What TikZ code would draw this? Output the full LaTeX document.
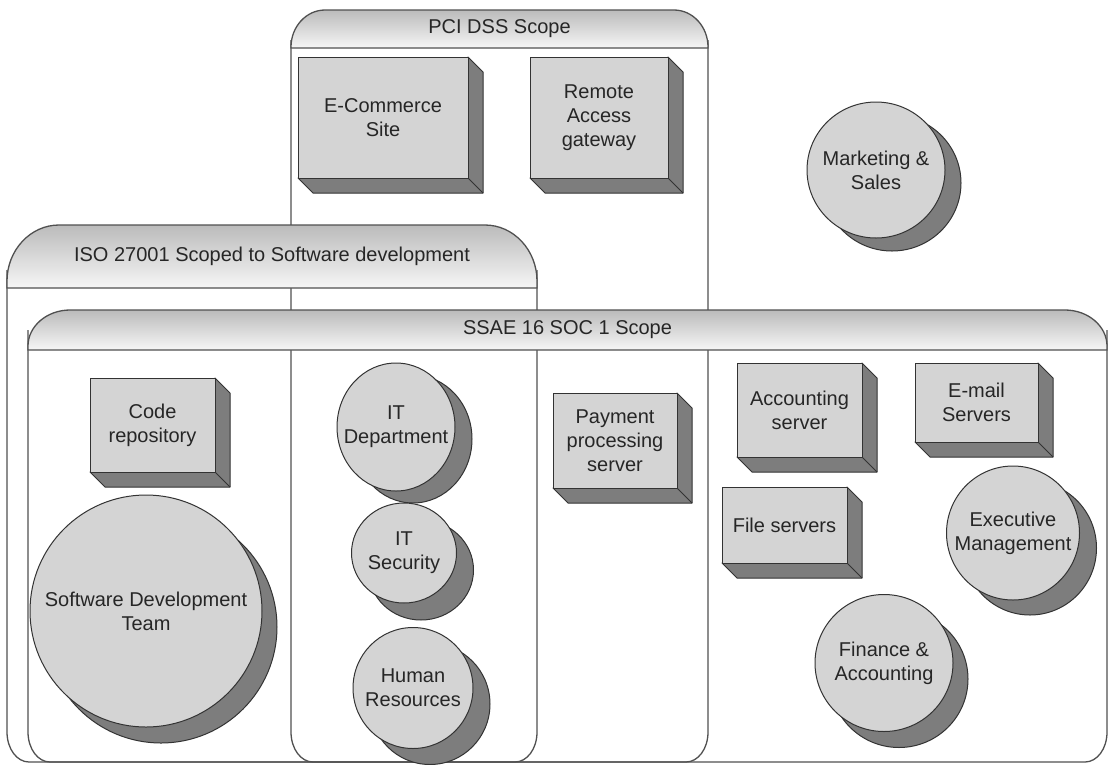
\documentclass[tikz,border=0pt]{standalone}
\usepackage{fontspec}
\setmainfont{Liberation Sans}
\usetikzlibrary{shapes.geometric}
\definecolor{face}{HTML}{D4D4D4}
\definecolor{side}{HTML}{7D7D7D}
\definecolor{edge}{HTML}{333333}
\definecolor{frame}{HTML}{505050}
\definecolor{txt}{HTML}{262626}
\definecolor{hdtop}{HTML}{BBBBBB}
\definecolor{hdbot}{HTML}{F6F6F6}

\tikzset{
  framestyle/.style={draw=frame, line width=1.3pt},
  headstyle/.style={draw=frame, line width=1.3pt, top color=hdtop, bottom color=hdbot},
  lbl/.style={text=txt, align=center, font=\fontsize{20}{24}\selectfont, inner sep=0pt},
  sidestyle/.style={fill=side, draw=edge, line width=1pt, line join=round},
  boxface/.style={rectangle, fill=face, draw=edge, line width=1pt, inner sep=0pt,
    text=txt, align=center, font=\fontsize{20}{24}\selectfont},
  shadowell/.style={ellipse, fill=side, draw=edge, line width=1pt, inner sep=0pt},
  faceell/.style={ellipse, fill=face, draw=edge, line width=1pt, inner sep=0pt},
}

% body outline: x1 x2 ytop ybottom
\newcommand\scopebody[4]{%
  \draw[framestyle] (#1,#3) -- (#1,{#4-30}) .. controls (#1,{#4-13}) and ({#1+10},#4) .. ({#1+22},#4)
    -- ({#2-22},#4) .. controls ({#2-10},#4) and (#2,{#4-13}) .. (#2,{#4-30}) -- (#2,#3);
}
% header: name x1 x2 ytop ybottom rx ry text
\newcommand\scopehead[8]{%
  \path[headstyle] (#2,#5) -- (#2,{#4+#7}) .. controls (#2,{#4+0.45*#7}) and ({#2+0.45*#6},#4) .. ({#2+#6},#4)
    -- ({#3-#6},#4) .. controls ({#3-0.45*#6},#4) and (#3,{#4+0.45*#7}) .. (#3,{#4+#7}) -- (#3,#5) -- cycle;
  \node[lbl] (#1) at ({(#2+#3)/2},{(#4+#5)/2}) {#8};
}
% 3D box: name x1 y1 x2 y2 text
\newcommand\tdbox[6]{%
  \filldraw[sidestyle] (#4,#3) -- ({#4+15},{#3+15}) -- ({#4+15},{#5+15}) -- ({#2+15},{#5+15}) -- (#2,#5) -- (#4,#5) -- cycle;
  \draw[sidestyle] (#4,#5) -- ({#4+15},{#5+15});
  \node[boxface, minimum width={(#4-#2)*1pt}, minimum height={(#5-#3)*1pt}] (#1) at ({(#2+#4)/2},{(#3+#5)/2}) {#6};
}
% shadowed circle: name cx cy w h dx dy text
\newcommand\shcircle[8]{%
  \node[shadowell, minimum width=#4pt, minimum height=#5pt] (#1-s) at ({#2+#6},{#3+#7}) {};
  \node[faceell, minimum width=#4pt, minimum height=#5pt] (#1) at (#2,#3) {};
  \node[lbl] (#1-t) at (#2,#3) {#8};
}

\begin{document}
\begin{tikzpicture}[x=1pt,y=-1pt]
\useasboundingbox (0,0) rectangle (1109,764);

% container outlines
\scopebody{291}{708}{40}{762}
\scopebody{7}{537}{270}{762}
\scopebody{28}{1107}{330}{762}

% headers
\scopehead{pci}{291}{708}{10}{48}{34}{37}{PCI DSS Scope}
\scopehead{iso}{7}{537}{225}{288}{52}{56}{ISO 27001 Scoped to Software development}
\scopehead{ssae}{28}{1107}{310}{350}{42}{36}{SSAE 16 SOC 1 Scope}

% boxes
\tdbox{ecom}{298}{57}{468}{178}{E-Commerce\\Site}
\tdbox{remote}{530}{57}{668}{178}{Remote\\Access\\gateway}
\tdbox{code}{90}{378}{215}{472}{Code\\repository}
\tdbox{pay}{553}{393}{677}{488}{Payment\\processing\\server}
\tdbox{acct}{737}{363}{862}{457}{Accounting\\server}
\tdbox{mail}{915}{363}{1038}{442}{E-mail\\Servers}
\tdbox{file}{722}{487}{847}{563}{File servers}

% circles
\shcircle{mkt}{876}{170}{138}{136}{16}{13}{Marketing \&\\Sales}
\shcircle{sdt}{146}{611}{232}{232}{15}{16}{Software Development\\Team}
\shcircle{itd}{396}{427}{118}{128}{17}{12}{IT\\Department}
\shcircle{its}{404}{553}{105}{100}{17}{17}{IT\\Security}
\shcircle{hr}{413}{688}{120}{121}{17}{16}{Human\\Resources}
\shcircle{exec}{1013}{533}{133}{134}{17}{15}{Executive\\Management}
\shcircle{fin}{884}{663}{138}{137}{15}{16}{Finance \&\\Accounting}
\end{tikzpicture}
\end{document}
